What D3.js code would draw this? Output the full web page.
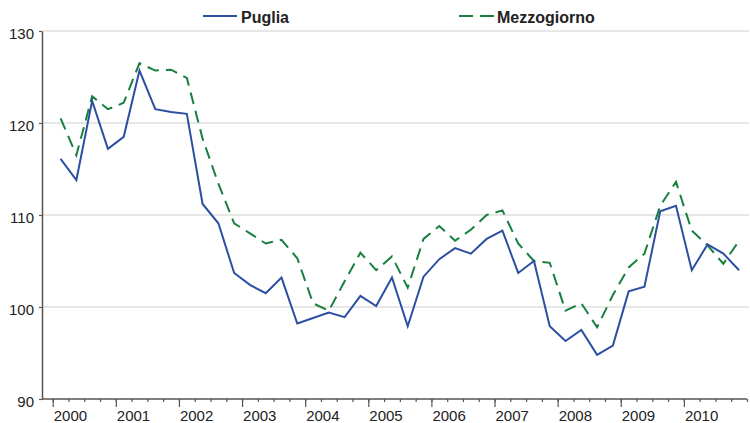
<!DOCTYPE html>
<html>
<head>
<meta charset="utf-8">
<script src="https://cdn.jsdelivr.net/npm/d3@7"></script>
<style>
  html, body { margin: 0; padding: 0; background: #fff; }
  svg { display: block; font-family: "Liberation Sans", Arial, sans-serif; }
</style>
</head>
<body>
<svg id="chart" width="750" height="423"></svg>
<script>
// Quarterly index, 2000 Q1 – 2010 Q4
const years = [2000, 2001, 2002, 2003, 2004, 2005, 2006, 2007, 2008, 2009, 2010];
const yTicks = [90, 100, 110, 120, 130];

const puglia = [
  116.1, 113.8, 122.4, 117.2, 118.5, 125.7, 121.5, 121.2, 121.0, 111.2, 109.1, 103.7,
  102.4, 101.5, 103.2, 98.2, 98.8, 99.4, 98.9, 101.2, 100.1, 103.2, 97.9, 103.3,
  105.2, 106.4, 105.8, 107.4, 108.3, 103.7, 105.0, 97.9, 96.3, 97.5, 94.8, 95.8,
  101.7, 102.2, 110.4, 111.0, 104.0, 106.8, 105.8, 104.0
];
const mezzogiorno = [
  120.5, 116.5, 122.9, 121.5, 122.2, 126.5, 125.7, 125.8, 124.9, 118.3, 113.4, 109.1,
  108.0, 106.9, 107.3, 105.3, 100.4, 99.6, 102.8, 105.9, 104.0, 105.5, 102.1, 107.4,
  108.8, 107.2, 108.4, 110.0, 110.5, 106.9, 105.0, 104.8, 99.6, 100.4, 97.8, 101.3,
  104.3, 105.8, 111.0, 113.6, 108.3, 106.7, 104.7, 107.2
];

const seriesNames = ["Puglia", "Mezzogiorno"];
const colors = { Puglia: "#2d4fa3", Mezzogiorno: "#18803f" };

(function () {
  const svg = d3.select("#chart");
  const plotLeft = 42, plotRight = 747, plotTop = 31, plotBottom = 399;
  const nQ = puglia.length;

  // x measured in quarters from the start of 2000
  const x = d3.scaleLinear().domain([0, nQ]).range([52.7, plotRight]);
  const y = d3.scaleLinear().domain([90, 130]).range([plotBottom, plotTop]);

  // horizontal gridlines
  svg.append("g")
    .selectAll("line")
    .data(yTicks.filter(v => v > 90))
    .join("line")
    .attr("x1", plotLeft).attr("x2", 749)
    .attr("y1", d => y(d)).attr("y2", d => y(d))
    .attr("stroke", "#cfcfcf").attr("stroke-width", 1.2);

  // y axis
  const yAxis = svg.append("g")
    .attr("transform", `translate(${plotLeft},0)`)
    .call(d3.axisLeft(y).tickValues(yTicks).tickSize(3).tickPadding(5).tickSizeOuter(0));
  yAxis.select(".domain").attr("stroke", "#555").attr("stroke-width", 1.5);
  yAxis.selectAll(".tick line").attr("stroke", "#555").attr("stroke-width", 1.2);
  yAxis.selectAll(".tick text")
    .attr("font-size", 15).attr("fill", "#222").attr("dy", "0.5em");

  // x axis: quarter ticks (minor) and year ticks (major)
  const xMinor = svg.append("g")
    .attr("transform", `translate(0,${plotBottom})`)
    .call(d3.axisBottom(x).tickValues(d3.range(0, nQ + 1)).tickSize(3).tickFormat(""));
  xMinor.select(".domain").remove();
  xMinor.selectAll(".tick line").attr("stroke", "#555").attr("stroke-width", 1.2);

  const xMajor = svg.append("g")
    .attr("transform", `translate(0,${plotBottom})`)
    .call(d3.axisBottom(x)
      .tickValues(years.map((yr, i) => i * 4))
      .tickSize(8).tickPadding(2)
      .tickFormat((d, i) => years[i]));
  xMajor.select(".domain").remove();
  xMajor.selectAll(".tick line").attr("stroke", "#555").attr("stroke-width", 1.2);
  xMajor.selectAll(".tick text")
    .attr("font-size", 15).attr("fill", "#222")
    .attr("text-anchor", "start").attr("x", 0.5).attr("dy", "0.78em");

  svg.append("line")
    .attr("x1", plotLeft).attr("x2", plotRight)
    .attr("y1", plotBottom).attr("y2", plotBottom)
    .attr("stroke", "#555").attr("stroke-width", 1.5);

  // series lines
  const line = d3.line()
    .x((d, i) => x(i + 0.5))
    .y(d => y(d));

  svg.append("path")
    .datum(mezzogiorno)
    .attr("fill", "none")
    .attr("stroke", colors.Mezzogiorno)
    .attr("stroke-width", 2)
    .attr("stroke-dasharray", "12,7")
    .attr("d", line);

  svg.append("path")
    .datum(puglia)
    .attr("fill", "none")
    .attr("stroke", colors.Puglia)
    .attr("stroke-width", 2)
    .attr("d", line);

  // legend
  const legend = [
    { name: seriesNames[0], x1: 203, x2: 237, tx: 241, dash: null },
    { name: seriesNames[1], x1: 459, x2: 494, tx: 497, dash: "14,7" }
  ];
  const lg = svg.append("g");
  legend.forEach(l => {
    lg.append("line")
      .attr("x1", l.x1).attr("x2", l.x2)
      .attr("y1", 16).attr("y2", 16)
      .attr("stroke", colors[l.name]).attr("stroke-width", 2.2)
      .attr("stroke-dasharray", l.dash);
    lg.append("text")
      .attr("x", l.tx).attr("y", 22.5)
      .attr("font-size", 16).attr("font-weight", "bold").attr("fill", "#222")
      .text(l.name);
  });
})();
</script>
</body>
</html>
